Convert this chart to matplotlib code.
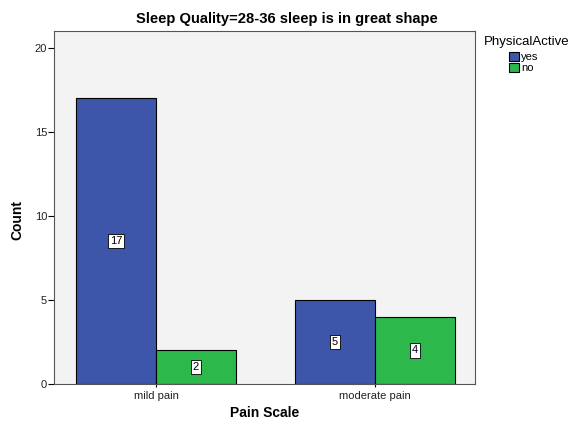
import matplotlib
matplotlib.use("Agg")
import matplotlib.pyplot as plt
import numpy as np

categories = ["mild pain", "moderate pain"]
series_names = ["yes", "no"]
yes_counts = [17, 5]
no_counts = [2, 4]
colors = ["#3D56AA", "#2CB84A"]

plt.rcParams['font.family'] = ['Liberation Sans', 'DejaVu Sans']
fig = plt.figure(figsize=(5.74, 4.23), dpi=100)
W, H = 574, 423
ax = fig.add_axes([54/W, 1-384/H, (475-54)/W, (384-31)/H])
ax.set_facecolor("#F3F3F3")

x = np.arange(len(categories))
w = 0.365
for i, (vals, name) in enumerate([(yes_counts, "yes"), (no_counts, "no")]):
    pos = x + (i - 0.5) * w
    ax.bar(pos, vals, width=w, color=colors[i], edgecolor="black", linewidth=0.8, label=name)
    for p, v in zip(pos, vals):
        ax.text(p, v / 2, str(v), ha="center", va="center", fontsize=8,
                bbox=dict(boxstyle="square,pad=0.2", fc="white", ec="black", lw=0.6))

ax.set_xlim(-0.466, 1.457)
ax.set_ylim(0, 21)
ax.set_yticks([0, 5, 10, 15, 20])
ax.set_xticks(x)
ax.set_xticklabels(categories, fontsize=8)
ax.tick_params(axis="y", labelsize=8, length=4, width=0.8, pad=1, labelcolor="#222222")
ax.tick_params(axis="x", length=4, width=0.8, direction="inout", pad=3, labelcolor="#222222")
for s in ax.spines.values():
    s.set_color("#555555")
    s.set_linewidth(0.8)

fig.text(17/W, 1-220/H, "Count", rotation=90, ha="center", va="center", fontsize=10, fontweight="bold")
fig.text(265/W, 1-413/H, "Pain Scale", ha="center", va="center", fontsize=10, fontweight="bold")
fig.text(287/W, 1-19/H, "Sleep Quality=28-36 sleep is in great shape", ha="center", va="center",
         fontsize=10.6, fontweight="bold")
fig.text(484/W, 1-42/H, "PhysicalActive", ha="left", va="center", fontsize=9.5)

leg = ax.legend(loc="upper left", bbox_to_anchor=(509/W, 1-52/H), bbox_transform=fig.transFigure,
                frameon=False, fontsize=8, handlelength=0.9, handleheight=0.9,
                handletextpad=0.2, labelspacing=0.05, borderaxespad=0.0, borderpad=0.0)

fig.savefig("out.png", dpi=100)
